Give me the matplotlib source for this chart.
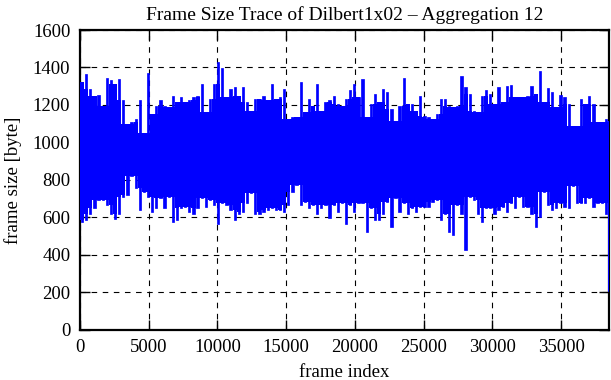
#!/usr/bin/env python3
import numpy as np
import matplotlib
matplotlib.use('Agg')
import matplotlib.pyplot as plt

BIN = 300
LAST_FRAME = 38450

frame_max = [
    1323, 1364, 1287, 1250, 1254, 1197, 1346, 1332, 1314, 1340, 1224, 1100,
    1107, 1125, 1224, 1053, 1371, 1152, 1197, 1224, 1197, 1188,
    1250, 1215, 1242, 1215, 1224, 1242, 1250, 1310, 1160, 1233, 1314, 1427,
    1398, 1242, 1287, 1296, 1250, 1296, 1215, 1170, 1233,
    1233, 1250, 1224, 1314, 1233, 1242, 1287, 1125, 1134, 1134, 1323, 1160,
    1233, 1197, 1314, 1170, 1215, 1224, 1250, 1206, 1197,
    1233, 1278, 1314, 1242, 1340, 1134, 1206, 1260, 1215, 1287, 1269, 1178,
    1116, 1197, 1346, 1206, 1206, 1170, 1250, 1143, 1134, 1125,
    1152, 1233, 1233, 1197, 1188, 1197, 1353, 1296, 1256, 1170, 1160, 1250,
    1278, 1260, 1206, 1296, 1215, 1299, 1308, 1242, 1242,
    1242, 1250, 1299, 1260, 1380, 1215, 1292, 1269, 1188, 1254, 1242, 1206,
    1088, 1088, 1233, 1206, 1247, 1206, 1107, 1107, 1125, 1116,
]
frame_min = [
    576, 585, 620, 648, 693, 693, 666, 620, 590, 620, 710, 720,
    819, 755, 639, 738, 710, 630, 648, 702, 648, 710,
    576, 585, 648, 657, 630, 620, 648, 702, 657, 693, 666, 567,
    675, 666, 639, 585, 620, 630, 675, 729, 620,
    620, 630, 639, 648, 639, 639, 630, 666, 738, 774, 666, 684,
    648, 666, 620, 648, 666, 599, 666, 630, 675,
    567, 666, 630, 675, 675, 522, 648, 585, 585, 620, 684, 549,
    702, 630, 675, 620, 648, 630, 657, 657, 657, 684,
    693, 585, 620, 522, 504, 666, 620, 426, 710, 693, 620, 576,
    648, 648, 620, 639, 657, 630, 675, 648, 710,
    657, 657, 620, 549, 603, 738, 666, 639, 648, 675, 657, 648,
    765, 675, 675, 675, 702, 657, 675, 675, 620, 207,
]

x_ticks = [0, 5000, 10000, 15000, 20000, 25000, 30000, 35000]
y_ticks = [0, 200, 400, 600, 800, 1000, 1200, 1400, 1600]

plt.rcParams['font.family'] = ['Liberation Serif', 'DejaVu Serif']
plt.rcParams['font.size'] = 13.5

fig = plt.figure(figsize=(6.11, 3.80), dpi=100)
ax = fig.add_axes([0.131, 0.132, 0.865, 0.789])

hi = np.array(frame_max, dtype=float)
lo = np.array(frame_min, dtype=float)
starts = np.arange(len(hi)) * BIN
widths = np.minimum(BIN, LAST_FRAME - starts)

# dense core: what the neighbouring bins share
core_hi = np.minimum.reduce([hi, np.r_[hi[0], hi[:-1]], np.r_[hi[1:], hi[-1]]])
core_lo = np.maximum.reduce([lo, np.r_[lo[0], lo[:-1]], np.r_[lo[1:], lo[-1]]])
core_lo[-1] = lo[-1]
edges = np.append(starts, LAST_FRAME)
ax.fill_between(edges, np.append(core_lo, core_lo[-1]), np.append(core_hi, core_hi[-1]),
                step='post', color='#0000ff', lw=0, zorder=3)

# spikes of each bin
bar_w = widths * 0.55
bar_w[-1] = widths[-1]
ax.bar(starts + widths / 2, hi - lo, bottom=lo, width=bar_w,
       color='#0000ff', edgecolor='#0000ff', lw=0.5, zorder=3)

ax.set_xlim(0, LAST_FRAME)
ax.set_ylim(0, 1600)
ax.set_xticks(x_ticks)
ax.set_yticks(y_ticks)
ax.tick_params(direction='in', top=True, right=True, length=7, width=1)
ax.tick_params(axis='x', pad=6.5)
ax.tick_params(axis='y', pad=7)
ax.grid(True, color='black', ls=(0, (5, 5)), lw=0.8)
ax.set_axisbelow(True)
for s in ax.spines.values():
    s.set_linewidth(1.6)

ax.set_title('Frame Size Trace of Dilbert1x02 \u2013 Aggregation 12', fontsize=14, pad=7)
ax.set_xlabel('frame index', labelpad=6)
ax.set_ylabel('frame size [byte]', labelpad=8)

plt.savefig('out.png', dpi=100)
plt.close()
